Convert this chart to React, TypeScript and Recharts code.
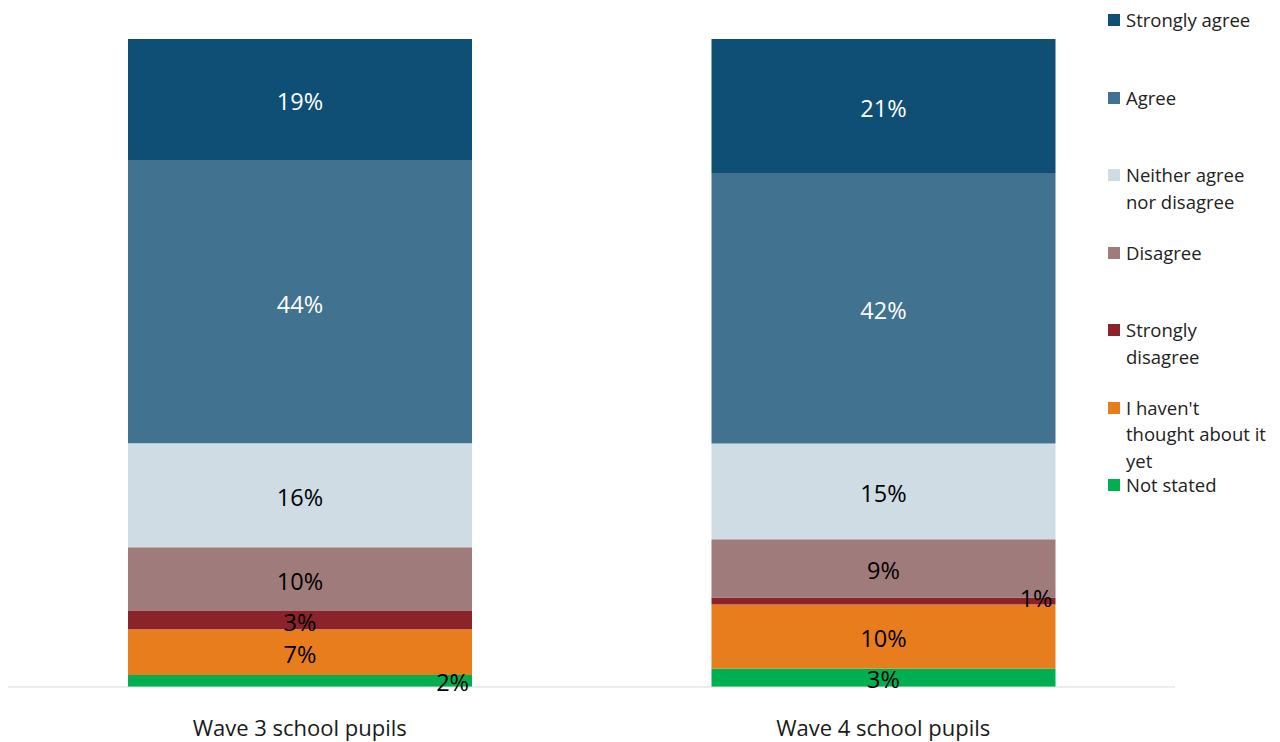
import React from "react";
import { BarChart, Bar, XAxis, YAxis, LabelList } from "recharts";

const categories = ["Wave 3 school pupils", "Wave 4 school pupils"];

// shares per category, bottom of the stack first
const notStated = [1.85, 2.84];
const notThought = [7.06, 9.89];
const stronglyDisagree = [2.83, 1.08];
const disagree = [9.84, 9.0];
const neither = [16.02, 14.78];
const agree = [43.6, 41.6];
const stronglyAgree = [18.8, 20.8];

const series = [
  { key: "Not stated", values: notStated, color: "#00b050", text: "#000000", legend: "Not stated" },
  { key: "I haven't thought about it yet", values: notThought, color: "#e87d1e", text: "#000000", legend: "I haven't\nthought about it\nyet" },
  { key: "Strongly disagree", values: stronglyDisagree, color: "#8b232a", text: "#000000", legend: "Strongly\ndisagree" },
  { key: "Disagree", values: disagree, color: "#a07b7c", text: "#000000", legend: "Disagree" },
  { key: "Neither agree nor disagree", values: neither, color: "#cfdce4", text: "#000000", legend: "Neither agree\nnor disagree" },
  { key: "Agree", values: agree, color: "#417290", text: "#ffffff", legend: "Agree" },
  { key: "Strongly agree", values: stronglyAgree, color: "#104f75", text: "#ffffff", legend: "Strongly agree" },
];

const data = categories.map((category, i) => {
  const row: Record<string, string | number> = { category };
  series.forEach((s) => {
    row[s.key] = s.values[i];
  });
  return row;
});

// labels that were nudged to the right edge of their bar
const edgeLabels = ["Not stated|0", "Strongly disagree|1"];

const FONT = "'Open Sans', 'Noto Sans', sans-serif";

const makeLabel = (seriesKey: string, color: string) => (props: any) => {
  const vb = props.viewBox || props;
  const x = Number(vb.x ?? props.x);
  const y = Number(vb.y ?? props.y);
  const width = Number(vb.width ?? props.width);
  const height = Number(vb.height ?? props.height);
  const value = Number(props.value);
  const edge = edgeLabels.includes(`${seriesKey}|${props.index}`);
  const cy = y + height / 2 + 1.5 + (seriesKey === "Strongly disagree" && edge ? -5 : 0) + (seriesKey === "Not stated" && edge ? -1 : 0);
  return (
    <text
      x={edge ? x + width - 3 : x + width / 2}
      y={cy}
      textAnchor={edge ? "end" : "middle"}
      dominantBaseline="central"
      fill={color}
      fontSize={23.5}
      fontFamily={FONT}
    >
      {`${Math.round(value)}%`}
    </text>
  );
};

export default function App() {
  const legendItems = [...series].reverse();
  return (
    <div style={{ position: "absolute", left: 0, top: 0, width: 1280, height: 742, background: "#fff" }}>
      <BarChart
        width={1280}
        height={742}
        data={data}
        margin={{ top: 39, right: 105, bottom: 15, left: 8 }}
        barSize={344}
      >
        <XAxis
          dataKey="category"
          height={40}
          axisLine={{ stroke: "#d9d9d9" }}
          tickLine={false}
          tickMargin={27}
          tick={{ fontSize: 22, fill: "#1a1a1a", fontFamily: FONT }}
        />
        <YAxis hide domain={[0, 100]} allowDataOverflow />
        {series.map((s) => (
          <Bar key={s.key} dataKey={s.key} stackId="a" fill={s.color} isAnimationActive={false}>
            <LabelList dataKey={s.key} content={makeLabel(s.key, s.text)} />
          </Bar>
        ))}
      </BarChart>
      {legendItems.map((s, i) => (
        <div
          key={s.key}
          style={{
            position: "absolute",
            left: 1108,
            top: 20 + i * 77.5 - 13,
            display: "flex",
            alignItems: "flex-start",
            fontFamily: FONT,
            fontSize: 18.5,
            lineHeight: "26.5px",
            color: "#222",
          }}
        >
          <span style={{ width: 12, height: 12, background: s.color, marginTop: 7, marginRight: 6, flexShrink: 0 }} />
          <span style={{ whiteSpace: "pre-line" }}>{s.legend}</span>
        </div>
      ))}
    </div>
  );
}
